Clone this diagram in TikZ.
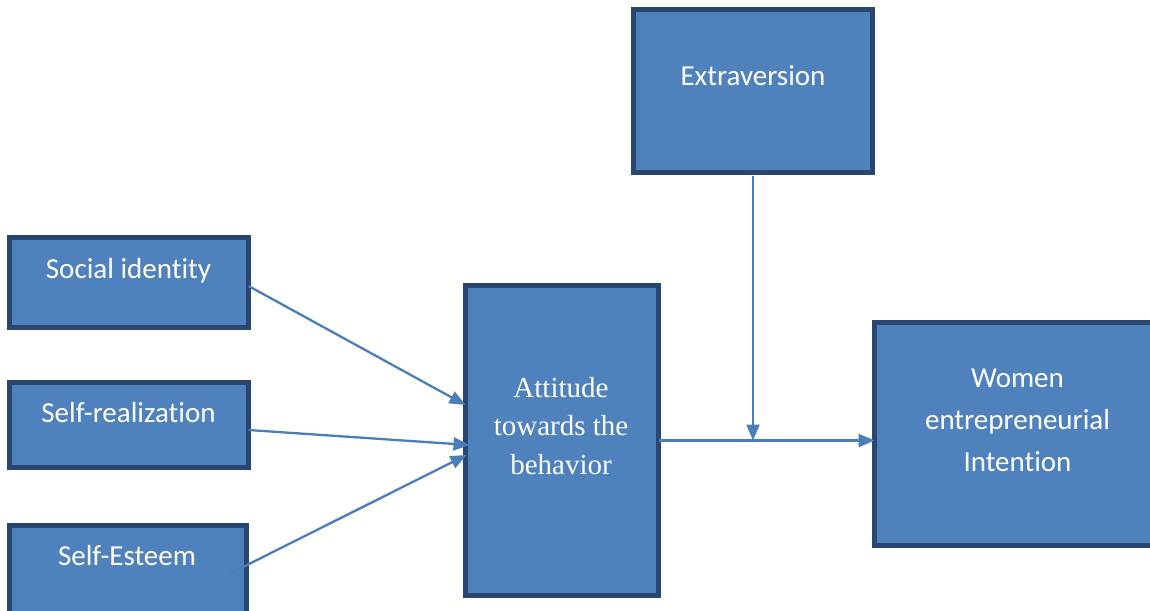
\documentclass[tikz,border=0pt]{standalone}
\usepackage{fontspec}
\setmainfont{Carlito}[Ligatures=NoCommon]
\newfontfamily\timesfont{Liberation Serif}
\usetikzlibrary{arrows.meta}
\definecolor{boxfill}{HTML}{4F81BD}
\definecolor{boxline}{HTML}{284670}
\definecolor{arrowblue}{HTML}{4A7EBB}
\tikzset{
  varbox/.style={draw=boxline, line width=4.5pt, fill=boxfill, inner sep=0pt, outer sep=0pt},
  vartext/.style={text=white, font=\fontsize{29}{42}\selectfont, align=center, anchor=base, inner sep=0pt},
  link/.style={draw=arrowblue, line width=2.3pt, -{Triangle[length=16pt, width=13pt]}}
}
\begin{document}
\begin{tikzpicture}[x=1pt, y=-1pt]
			\useasboundingbox (0, 0) rectangle (1150, 610);
			\clip (0, 0) rectangle (1150, 610);
			
			% predictors
			\node[varbox, minimum width=239pt, minimum height=90pt] (social) at (129, 282.5) {};
			\node[varbox, minimum width=239pt, minimum height=85pt] (realize) at (129, 425) {};
			\node[varbox, minimum width=237pt, minimum height=110pt] (esteem) at (128, 580.5) {};
			\node[vartext] (socialtxt) at (128.5, 278) {Social identity};
			\node[vartext] (realizetxt) at (128.5, 422) {Self-realization};
			\node[vartext] (esteemtxt) at (127, 565) {Self-Esteem};
			
			% attitude
			\node[varbox, minimum width=193pt, minimum height=310pt] (attitude) at (562, 440.5) {};
			\node[vartext, font=\timesfont\fontsize{29}{38.5}\selectfont] (attitudetxt) at (561, 474)
				{Attitude\\towards the\\behavior};
			
			% moderator
			\node[varbox, minimum width=239pt, minimum height=163pt] (extra) at (753, 91) {};
			\node[vartext] (extratxt) at (753, 85) {Extraversion};
			
			% outcome
			\node[varbox, minimum width=325pt, minimum height=223pt] (women) at (1037, 434) {};
			\node[vartext] (womentxt) at (1017.5, 471) {Women\\entrepreneurial\\Intention};
			
			% arrows
			\coordinate (esteemout) at (227, 575);
			\draw[link] ([yshift=-3.5pt]social.east) -- ([yshift=35.5pt]attitude.west);
			\draw[link] ([yshift=-5pt]realize.east) -- ([xshift=4pt, yshift=-4.5pt]attitude.west);
			\draw[link] (esteemout) -- ([xshift=1pt, yshift=-14.5pt]attitude.west);
			\draw[link] (attitude.east) -- (attitude.east -| women.west);
			\draw[link] ([yshift=-3pt]extra.south) -- (extra.south |- attitude.east);
		\end{tikzpicture}
\end{document}
